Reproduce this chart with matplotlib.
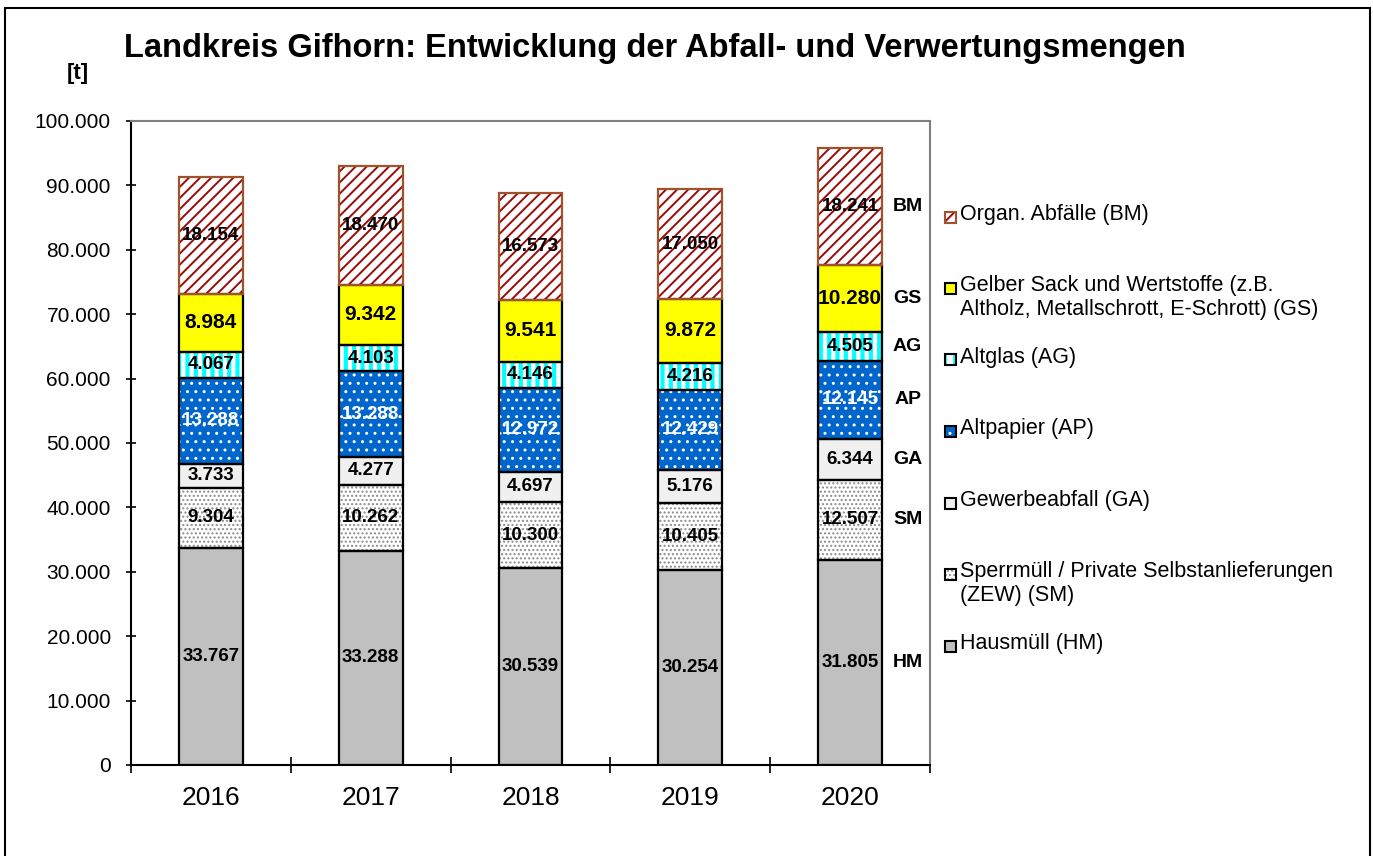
import matplotlib
matplotlib.use("Agg")
import matplotlib.pyplot as plt
from matplotlib.patches import Rectangle
import numpy as np

plt.rcParams['font.family'] = ['Liberation Sans', 'DejaVu Sans']

years = ["2016", "2017", "2018", "2019", "2020"]
abbr = ["HM", "SM", "GA", "AP", "AG", "GS", "BM"]
legend_labels = [
    "Hausmüll (HM)",
    "Sperrmüll / Private Selbstanlieferungen\n(ZEW) (SM)",
    "Gewerbeabfall (GA)",
    "Altpapier (AP)",
    "Altglas (AG)",
    "Gelber Sack und Wertstoffe (z.B.\nAltholz, Metallschrott, E-Schrott) (GS)",
    "Organ. Abfälle (BM)",
]
HM = [33767, 33288, 30539, 30254, 31805]
SM = [9304, 10262, 10300, 10405, 12507]
GA = [3733, 4277, 4697, 5176, 6344]
AP = [13288, 13288, 12972, 12429, 12145]
AG = [4067, 4103, 4146, 4216, 4505]
GS = [8984, 9342, 9541, 9872, 10280]
BM = [18154, 18470, 16573, 17050, 18241]
series = [HM, SM, GA, AP, AG, GS, BM]
yticks = list(range(0, 100001, 10000))

# styles: face, hatch color, hatch, hatch lw, edge color, label color, label size
styles = [
    dict(face="#C0C0C0", hc="#C0C0C0", hatch=None, hlw=1.0, edge="black", tc="black", ts=13.5),
    dict(face="white", hc="#8C8C8C", hatch="....", hlw=1.0, edge="black", tc="black", ts=13.5),
    dict(face="#F0F0F0", hc="#F0F0F0", hatch=None, hlw=1.0, edge="black", tc="black", ts=13.5),
    dict(face="#0066CC", hc="white", hatch="..", hlw=1.0, edge="black", tc="white", ts=13.5),
    dict(face="white", hc="#00FFFF", hatch="||", hlw=3.0, edge="black", tc="black", ts=13.5),
    dict(face="#FFFF00", hc="#FFFF00", hatch=None, hlw=1.0, edge="black", tc="black", ts=15),
    dict(face="white", hc="#9B0A0A", hatch="///", hlw=1.4, edge="#A0522D", tc="black", ts=13.5),
]

def fmt(v):
    return f"{v:,}".replace(",", ".")

W, H = 1373, 856
fig = plt.figure(figsize=(W / 100, H / 100), dpi=100)
ax = fig.add_axes([131 / W, 1 - 765 / H, (930 - 131) / W, (765 - 121) / H])

x = np.arange(len(years))
bottom = np.zeros(len(years))
width = 0.4
for vals, st, ab in zip(series, styles, abbr):
    vals = np.array(vals, dtype=float)
    with plt.rc_context({'hatch.linewidth': st["hlw"]}):
        ax.bar(x, vals, width, bottom=bottom, color=st["face"], edgecolor=st["hc"],
               linewidth=0, hatch=st["hatch"], zorder=2)
    cont = ax.bar(x, vals, width, bottom=bottom, fill=False, edgecolor=st["edge"],
                  linewidth=1.6, zorder=3)
    ax.bar_label(cont, labels=[fmt(int(v)) for v in vals], label_type="center",
                 color=st["tc"], fontsize=st["ts"], fontweight="bold", zorder=4)
    ax.text(4.36, bottom[-1] + vals[-1] / 2, ab, ha="center", va="center",
            fontsize=14, fontweight="bold")
    bottom = bottom + vals

ax.set_xlim(-0.5, 4.5)
ax.set_ylim(0, 100000)
ax.set_yticks(yticks)
ax.set_yticklabels([fmt(v) for v in yticks])
ax.set_xticks(x)
ax.set_xticklabels(years)
ax.set_xticks(np.arange(-0.5, 5, 1), minor=True)
ax.tick_params(axis="x", which="major", length=0, labelsize=19, pad=15)
ax.tick_params(axis="x", which="minor", length=11, direction="inout", width=1.2)
ax.tick_params(axis="y", which="major", length=7, direction="inout", width=1.2,
               labelsize=15, pad=11)
for s in ["left", "bottom"]:
    ax.spines[s].set_color("black")
    ax.spines[s].set_linewidth(1.5)
for s in ["top", "right"]:
    ax.spines[s].set_color("#808080")
    ax.spines[s].set_linewidth(1.5)

fig.text(655 / W, 1 - 48 / H, "Landkreis Gifhorn: Entwicklung der Abfall- und Verwertungsmengen",
         ha="center", va="center", fontsize=23.5, fontweight="bold")
fig.text(78 / W, 1 - 73 / H, "[t]", ha="center", va="center", fontsize=16, fontweight="bold")

# Legend (Excel-style, top entry first)
first_y = 217
step = 71.5
for i, k in enumerate(range(len(series) - 1, -1, -1)):
    st = styles[k]
    yc = first_y + i * step
    ms = 11
    with plt.rc_context({'hatch.linewidth': min(st["hlw"], 1.5)}):
        r1 = Rectangle((945 / W, 1 - (yc + ms / 2) / H), ms / W, ms / H, transform=fig.transFigure,
                       facecolor=st["face"], edgecolor=st["hc"], linewidth=0, hatch=st["hatch"])
    r2 = Rectangle((945 / W, 1 - (yc + ms / 2) / H), ms / W, ms / H, transform=fig.transFigure,
                   fill=False, edgecolor=st["edge"] if k == 6 else "black", linewidth=1.5)
    fig.patches.extend([r1, r2])
    fig.text(960 / W, 1 - (yc - 13) / H, legend_labels[k], ha="left", va="top",
             fontsize=15.5, linespacing=1.15)

# outer frame
fig.patches.append(Rectangle((5 / W, -0.05), (1370 - 5) / W, 1.05 - 8 / H,
                             transform=fig.transFigure, fill=False, edgecolor="black", linewidth=1.5))

fig.savefig("out.png", dpi=100)
